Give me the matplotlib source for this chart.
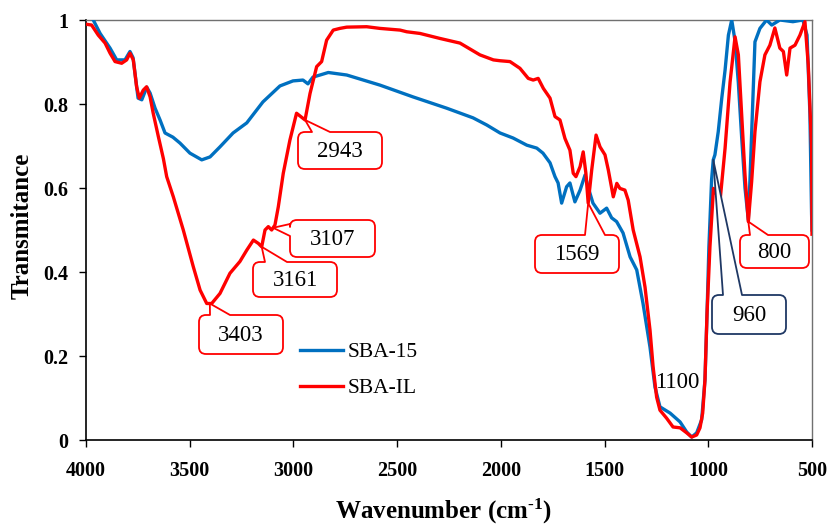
import matplotlib
matplotlib.use('Agg')
import matplotlib.pyplot as plt
import numpy as np
from matplotlib.path import Path
from matplotlib.patches import PathPatch
from matplotlib.transforms import IdentityTransform

# ---------------- data ----------------
series_names = ['SBA-15', 'SBA-IL']

sba15_wn = [4000, 3965, 3932, 3884, 3852, 3812, 3788, 3773, 3749, 3731,
            3707, 3691, 3667, 3643, 3619, 3581, 3547, 3499, 3442, 3402,
            3354, 3291, 3225, 3147, 3065, 3002, 2954, 2930, 2906, 2872,
            2832, 2743, 2583, 2424, 2261, 2134, 2068, 2004, 1941, 1875,
            1827, 1797, 1763, 1739, 1724, 1707, 1683, 1667, 1643, 1618,
            1594, 1580, 1556, 1522, 1490, 1466, 1442, 1411, 1377, 1345,
            1315, 1281, 1257, 1233, 1184, 1136, 1104, 1080, 1056, 1032,
            1016, 1006, 997, 984, 976, 968, 952, 935, 919, 903,
            887, 871, 855, 839, 823, 807, 799, 775, 751, 719,
            694, 655, 592, 544, 524, 510, 502, 500]
sba15_t = [1.02, 1.0, 0.968, 0.933, 0.905, 0.905, 0.925, 0.91, 0.814, 0.81,
           0.84, 0.826, 0.79, 0.762, 0.731, 0.721, 0.707, 0.683, 0.667, 0.674,
           0.698, 0.731, 0.755, 0.805, 0.843, 0.855, 0.857, 0.848, 0.864, 0.869,
           0.875, 0.869, 0.845, 0.817, 0.79, 0.767, 0.75, 0.731, 0.719, 0.702,
           0.695, 0.683, 0.66, 0.627, 0.612, 0.564, 0.603, 0.612, 0.567, 0.595,
           0.631, 0.603, 0.564, 0.54, 0.552, 0.529, 0.52, 0.493, 0.436, 0.405,
           0.326, 0.221, 0.126, 0.079, 0.064, 0.043, 0.019, 0.007, 0.017, 0.048,
           0.143, 0.302, 0.46, 0.62, 0.667, 0.679, 0.734, 0.814, 0.881, 0.964,
           1.0, 0.95, 0.85, 0.72, 0.6, 0.524, 0.62, 0.948, 0.98, 1.0,
           0.988, 1.0, 0.996, 1.0, 0.964, 0.776, 0.538, 0.5]

sbail_wn = [4000, 3973, 3941, 3908, 3884, 3860, 3828, 3804, 3788, 3772,
            3756, 3743, 3724, 3708, 3691, 3676, 3651, 3627, 3611, 3579,
            3531, 3483, 3450, 3418, 3394, 3354, 3306, 3258, 3225, 3193,
            3169, 3153, 3137, 3121, 3105, 3089, 3073, 3049, 3033, 3017,
            2985, 2944, 2920, 2888, 2864, 2840, 2808, 2776, 2743, 2647,
            2583, 2486, 2454, 2390, 2293, 2197, 2101, 2036, 2004, 1956,
            1908, 1868, 1844, 1820, 1795, 1763, 1739, 1715, 1691, 1667,
            1651, 1638, 1618, 1603, 1590, 1579, 1562, 1541, 1522, 1498,
            1482, 1458, 1441, 1426, 1402, 1386, 1362, 1329, 1305, 1281,
            1266, 1249, 1233, 1201, 1170, 1136, 1104, 1080, 1056, 1040,
            1027, 1016, 1006, 992, 975, 960, 943, 919, 895, 871,
            855, 839, 823, 807, 791, 775, 751, 727, 703, 679,
            655, 638, 622, 606, 582, 558, 534, 518, 502, 500]
sbail_t = [0.99, 0.988, 0.964, 0.945, 0.921, 0.901, 0.897, 0.905, 0.921, 0.905,
           0.841, 0.814, 0.833, 0.841, 0.817, 0.778, 0.722, 0.67, 0.627, 0.579,
           0.5, 0.413, 0.357, 0.325, 0.325, 0.349, 0.397, 0.425, 0.452, 0.476,
           0.468, 0.46, 0.5, 0.508, 0.5, 0.512, 0.555, 0.635, 0.675, 0.714,
           0.778, 0.762, 0.825, 0.889, 0.901, 0.952, 0.976, 0.98, 0.983, 0.984,
           0.98, 0.976, 0.972, 0.968, 0.956, 0.945, 0.917, 0.905, 0.903, 0.901,
           0.885, 0.861, 0.857, 0.861, 0.837, 0.814, 0.77, 0.762, 0.718, 0.69,
           0.635, 0.627, 0.651, 0.686, 0.635, 0.564, 0.643, 0.726, 0.698, 0.679,
           0.643, 0.579, 0.611, 0.599, 0.595, 0.571, 0.5, 0.436, 0.364, 0.262,
           0.174, 0.102, 0.071, 0.052, 0.031, 0.029, 0.017, 0.007, 0.012, 0.029,
           0.064, 0.143, 0.302, 0.46, 0.599, 0.585, 0.571, 0.695, 0.852, 0.96,
           0.917, 0.774, 0.631, 0.52, 0.615, 0.734, 0.853, 0.917, 0.94, 0.981,
           0.933, 0.925, 0.869, 0.933, 0.94, 0.964, 0.996, 0.893, 0.695, 0.49]

x_ticks = [4000, 3500, 3000, 2500, 2000, 1500, 1000, 500]
y_ticks = [0, 0.2, 0.4, 0.6, 0.8, 1]
y_tick_labels = ['0', '0.2', '0.4', '0.6', '0.8', '1']

# annotation labels, the series they point to, and target wavenumbers
ann_labels = ['3403', '3161', '3107', '2943', '1569', '960', '800']
ann_series = ['SBA-IL', 'SBA-IL', 'SBA-IL', 'SBA-IL', 'SBA-IL', 'SBA-15', 'SBA-IL']
ann_target_wn = [3403, 3153, 3098, 2944, 1579, 976, 807]
plain_label = '1100'

assert len(sba15_wn) == len(sba15_t)
assert len(sbail_wn) == len(sbail_t)

# ---------------- style / layout ----------------
plt.rcParams['font.family'] = ['Liberation Serif', 'DejaVu Serif']
plt.rcParams['mathtext.fontset'] = 'custom'
plt.rcParams['mathtext.rm'] = 'Liberation Serif:bold'
plt.rcParams['mathtext.bf'] = 'Liberation Serif:bold'
plt.rcParams['mathtext.it'] = 'Liberation Serif:italic'

BLUE = '#0070C0'
RED = '#FF0000'
NAVY = '#1F3864'
W, H = 828, 525

# callout boxes in image pixels (x0, x1, ytop, ybottom, side, base0, base1, colour)
callout_layout = {
    '3403': (199, 283, 315, 354, 'top', 210, 230, RED),
    '3161': (253, 337, 262, 297, 'top', 265, 287, RED),
    '3107': (290, 375, 220, 257, 'left', 224, 236, RED),
    '2943': (298, 382, 132, 169, 'top', 312, 330, RED),
    '1569': (535, 619, 235, 273, 'top', 585, 605, RED),
    '960': (712, 786, 295, 334, 'top', 723, 742, NAVY),
    '800': (740, 809, 235, 268, 'top', 750, 768, RED),
}

fig = plt.figure(figsize=(W / 100, H / 100), dpi=100)
ax = fig.add_axes([86 / W, 1 - 440 / H, 726 / W, 420 / H])

lw = 2.4
ax.plot(sba15_wn, sba15_t, color=BLUE, lw=lw, label=series_names[0], zorder=3,
        solid_joinstyle='round')
ax.plot(sbail_wn, sbail_t, color=RED, lw=lw, label=series_names[1], zorder=4,
        solid_joinstyle='round')

ax.set_xlim(4000, 500)
ax.set_ylim(0, 1)
ax.set_xticks(x_ticks)
ax.set_xticklabels([str(v) for v in x_ticks])
ax.set_yticks(y_ticks)
ax.set_yticklabels(y_tick_labels)
ax.tick_params(axis='both', direction='out', length=5, width=1.0, labelsize=14.5,
               color='black')
ax.tick_params(axis='x', pad=10)
ax.tick_params(axis='y', pad=8)
for lab in ax.get_xticklabels() + ax.get_yticklabels():
    lab.set_fontweight('bold')

for s in ['left', 'bottom']:
    ax.spines[s].set_color('black')
    ax.spines[s].set_linewidth(1.2)
for s in ['top', 'right']:
    ax.spines[s].set_color('#707070')
    ax.spines[s].set_linewidth(1.0)

ax.set_xlabel('Wavenumber (cm$^{\\text{-1}}$)', fontsize=18, fontweight='bold')
ax.xaxis.set_label_coords((443 - 86) / 726, -(511 - 440) / 420)
ax.xaxis.label.set_va('center')
ax.set_ylabel('Transmitance', fontsize=18, fontweight='bold')
ax.yaxis.set_label_coords((22 - 86) / 726, (440 - 226) / 420)
ax.yaxis.label.set_va('center')

# legend
leg = ax.legend(loc='upper left', bbox_to_anchor=(300 / W, 1 - 342 / H),
                bbox_transform=fig.transFigure, frameon=False, fontsize=15.5,
                handlelength=2.0, handletextpad=0.2, labelspacing=0.74,
                borderpad=0, borderaxespad=0)
for t in leg.get_texts():
    t.set_color('black')

# ---------------- callouts ----------------
series_data = {
    'SBA-15': (np.array(sba15_wn[::-1], float), np.array(sba15_t[::-1], float)),
    'SBA-IL': (np.array(sbail_wn[::-1], float), np.array(sbail_t[::-1], float)),
}


def callout_path(x0, x1, yt, yb, side, b0, b1, tip, r=7):
    # display coords (y up)
    L, R = x0, x1
    T, B = H - yt, H - yb
    verts, codes = [], []

    def mv(p):
        verts.append(p); codes.append(Path.MOVETO)

    def ln(p):
        verts.append(p); codes.append(Path.LINETO)

    def crv(c, p):
        verts.extend([c, p]); codes.extend([Path.CURVE3, Path.CURVE3])

    mv((L + r, T))
    if side == 'top':
        ln((b0, T)); ln(tip); ln((b1, T))
    ln((R - r, T))
    crv((R, T), (R, T - r))
    ln((R, B + r))
    crv((R, B), (R - r, B))
    ln((L + r, B))
    crv((L, B), (L, B + r))
    if side == 'left':
        ln((L, H - b1)); ln(tip); ln((L, H - b0))
    ln((L, T - r))
    crv((L, T), (L + r, T))
    verts.append((L + r, T)); codes.append(Path.CLOSEPOLY)
    return Path(verts, codes)


fig.canvas.draw()
for lab, ser, twn in zip(ann_labels, ann_series, ann_target_wn):
    xs, ys = series_data[ser]
    tval = float(np.interp(twn, xs, ys))
    tip = tuple(ax.transData.transform((twn, tval)))
    x0, x1, yt, yb, side, b0, b1, col = callout_layout[lab]
    p = callout_path(x0, x1, yt, yb, side, b0, b1, tip)
    patch = PathPatch(p, facecolor='white', edgecolor=col, lw=1.3,
                      transform=IdentityTransform(), zorder=6, clip_on=False,
                      joinstyle='round')
    ax.add_patch(patch)
    ax.text((x0 + x1) / 2, H - (yt + yb) / 2 - 1, lab, fontsize=16.5,
            ha='center', va='center', color='black',
            transform=IdentityTransform(), zorder=7)

ax.text(677, H - 383, plain_label, fontsize=16.5, ha='center', va='center',
        color='black', transform=IdentityTransform(), zorder=7)

fig.savefig('out.png', dpi=100)
